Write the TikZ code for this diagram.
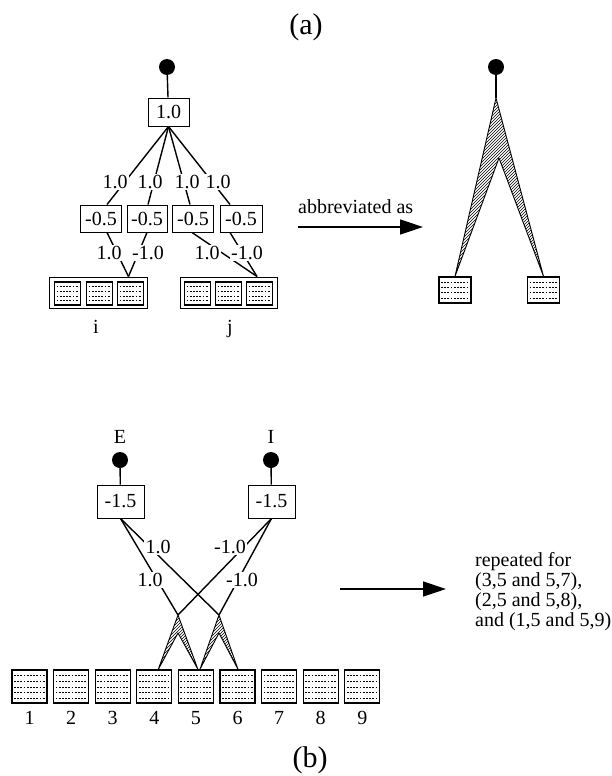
\documentclass[tikz,border=0pt]{standalone}
\usepackage{fontspec}
\setmainfont{Liberation Serif}
\usetikzlibrary{arrows.meta,patterns,calc}
\begin{document}
\begin{tikzpicture}[x=1pt,y=-1pt,
  every node/.style={font=\fontsize{20}{24}\selectfont, inner sep=1pt},
  title/.style={font=\fontsize{30}{34}\selectfont},
  rtxt/.style={font=\fontsize{20}{20}\selectfont, anchor=base west, inner sep=0pt},
  lbl/.style={fill=white, inner sep=1.5pt},
  conn/.style={line width=1.4pt},
  wbox/.style={draw, line width=1pt, minimum width=41pt, minimum height=27pt, inner sep=0pt},
  dot/.style={circle, fill=black, minimum size=16pt, inner sep=0pt},
  grp/.style={draw, line width=1pt, minimum width=98pt, minimum height=31pt, inner sep=0pt},
  cell/.style={draw, line width=1.3pt, inner sep=0pt},
  cella/.style={path picture={
    \foreach \f in {0.2,0.4,0.6,0.8}{
      \draw[line width=0.5pt, dash pattern=on 1.8pt off 1.4pt]
        ($(path picture bounding box.north west)!\f!(path picture bounding box.south west)+(2,0)$) --
        ($(path picture bounding box.north east)!\f!(path picture bounding box.south east)+(-2,0)$);
    }}},
  cellb/.style={path picture={
    \foreach \f in {0.17,0.34,0.51,0.68,0.85}{
      \draw[line width=0.5pt, dash pattern=on 1.8pt off 1.4pt]
        ($(path picture bounding box.north west)!\f!(path picture bounding box.south west)+(2,0)$) --
        ($(path picture bounding box.north east)!\f!(path picture bounding box.south east)+(-2,0)$);
    }}},
  chev/.style={draw, line width=0.9pt, pattern=north east lines, line join=round},
  bigarrow/.style={line width=1.4pt, -{Triangle[length=23pt, width=15pt]}}
]
\useasboundingbox (0,0) rectangle (612,776);

% ---------- (a) ----------
\node[title] (ta) at (306,27) {(a)};

% left tree
\node[dot] (d1) at (167,67) {};
\node[wbox, minimum height=28pt] (b0) at (168.5,112) {1.0};
\draw[conn] (d1) -- (b0);

\node[wbox] (h1) at (101,218.5) {-0.5};
\node[wbox, minimum width=40pt] (h2) at (147,218.5) {-0.5};
\node[wbox] (h3) at (193,218.5) {-0.5};
\node[wbox, minimum width=42pt] (h4) at (241,218.5) {-0.5};

\draw[conn] (b0.south) -- ($(h1.north)+(6,0)$);
\draw[conn] (b0.south) -- ($(h2.north)+(1,0)$);
\draw[conn] (b0.south) -- ($(h3.north)+(-3,0)$);
\draw[conn] (b0.south) -- ($(h4.north)+(-11,0)$);
\node[lbl] (u1) at (115,182) {1.0};
\node[lbl] (u2) at (150,182) {1.0};
\node[lbl] (u3) at (187,182) {1.0};
\node[lbl] (u4) at (218,182) {1.0};

% groups i and j
\node[grp] (gi) at (98,292.5) {};
\node[cell, cella, minimum width=26pt, minimum height=23pt] (i1) at (67.5,293.5) {};
\node[cell, cella, minimum width=26pt, minimum height=23pt] (i2) at (99.5,293.5) {};
\node[cell, cella, minimum width=26pt, minimum height=23pt] (i3) at (130.5,293.5) {};
\node[grp, minimum width=97pt] (gj) at (228.5,292.5) {};
\node[cell, cella, minimum width=26pt, minimum height=23pt] (j1) at (197.5,293.5) {};
\node[cell, cella, minimum width=26pt, minimum height=23pt] (j2) at (228.5,293.5) {};
\node[cell, cella, minimum width=26pt, minimum height=23pt] (j3) at (259.5,293.5) {};
\node[anchor=base] (li) at (96,333) {i};
\node[anchor=base] (lj) at (230,333) {j};

\draw[conn] ($(h1.south)+(6,0)$) -- ($(i3 |- gi.north)+(-2,0)$);
\draw[conn] (h2.south) -- ($(i3 |- gi.north)+(-2,0)$);
\draw[conn] ($(h3.south)+(-1,0)$) -- ($(j3 |- gj.north)+(-2.5,0)$);
\draw[conn] ($(h4.south)+(-11,0)$) -- ($(j3 |- gj.north)+(-2.5,0)$);
\node[lbl] (v1) at (109,253) {1.0};
\node[lbl] (v2) at (148,253) {-1.0};
\node[lbl] (v3) at (207,253) {1.0};
\node[lbl] (v4) at (247,253) {-1.0};

% abbreviated arrow
\coordinate (aa1) at (298,227);
\coordinate (aa2) at (423,227);
\draw[bigarrow] (aa1) -- (aa2);
\node[anchor=base west, inner sep=0pt] (abt) at (298,213) {abbreviated as};

% right abbreviated form
\node[dot] (d2) at (496,67) {};
\coordinate (ap) at (496,98);
\coordinate (ai) at (499,158);
\node[cell, cella, minimum width=32pt, minimum height=26pt] (r1) at (455,290) {};
\node[cell, cella, minimum width=32pt, minimum height=26pt] (r2) at (543.5,290) {};
\draw[conn] (d2) -- (ap);
\draw[chev] (ap) -- (r1.north) -- (ai) -- (r2.north) -- cycle;

% ---------- (b) ----------
\node (le) at (120,437) {E};
\node (lI) at (271,437) {I};
\node[dot] (d3) at (120,460) {};
\node[dot] (d4) at (271,460) {};
\node[wbox, minimum width=47pt, minimum height=33pt] (be) at (120.5,501.5) {-1.5};
\node[wbox, minimum width=47pt, minimum height=33pt] (bi) at (271.5,501.5) {-1.5};
\draw[conn] (d3) -- (be);
\draw[conn] (d4) -- (bi);

\foreach \k in {1,...,9}{
  \node[cell, cellb, minimum width=35pt, minimum height=33pt] (s\k) at ({29.5+41.6*(\k-1)},686.5) {};
  \node (n\k) at ({29.5+41.6*(\k-1)},718) {\k};
}

\coordinate (A) at (178,615);
\coordinate (B) at (219,615);
\coordinate (Ai) at (178,633);
\coordinate (Bi) at (219,633);
\draw[chev] (A) -- ($(s4.north)+(4,0)$) -- (Ai) -- ($(s5.north)+(2,0)$) -- cycle;
\draw[chev] (B) -- ($(s5.north)+(4,0)$) -- (Bi) -- ($(s6.north)+(0.5,0)$) -- cycle;

\draw[conn] (be.south) -- (A);
\draw[conn] (be.south) -- (B);
\draw[conn] (bi.south) -- (A);
\draw[conn] (bi.south) -- (B);
\node[lbl] (w1) at (158,547) {1.0};
\node[lbl] (w2) at (150,580) {1.0};
\node[lbl] (w3) at (230,547) {-1.0};
\node[lbl] (w4) at (242,580) {-1.0};

% repeated arrow and text
\coordinate (ba1) at (340,589);
\coordinate (ba2) at (446,589);
\draw[bigarrow] (ba1) -- (ba2);
\node[rtxt] (r1t) at (475,566) {repeated for};
\node[rtxt] (r2t) at (475,586) {(3,5 and 5,7),};
\node[rtxt] (r3t) at (475,606) {(2,5 and 5,8),};
\node[rtxt] (r4t) at (475,626) {and (1,5 and 5,9)};

\node[title] (tb) at (310,760) {(b)};
\end{tikzpicture}
\end{document}
